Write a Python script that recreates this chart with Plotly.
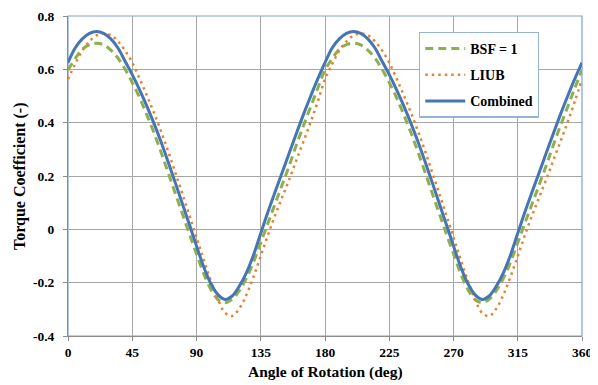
import plotly.graph_objects as go

angle = list(range(0, 365, 5))

bsf1 = [0.597, 0.640, 0.675, 0.693, 0.698, 0.692, 0.672, 0.642, 0.600, 0.550,
        0.495, 0.432, 0.365, 0.292, 0.215, 0.137, 0.060, -0.017, -0.092, -0.165,
        -0.225, -0.263, -0.275, -0.262, -0.230, -0.183, -0.122, -0.050, 0.023, 0.095,
        0.167, 0.240, 0.317, 0.390, 0.460, 0.530, 0.597,
        0.640, 0.675, 0.693, 0.698, 0.692, 0.672, 0.642, 0.600, 0.550,
        0.495, 0.432, 0.365, 0.292, 0.215, 0.137, 0.060, -0.017, -0.092, -0.165,
        -0.225, -0.263, -0.275, -0.262, -0.230, -0.183, -0.122, -0.050, 0.023, 0.095,
        0.167, 0.240, 0.317, 0.390, 0.460, 0.530, 0.597]

liub = [0.563, 0.620, 0.670, 0.705, 0.727, 0.735, 0.728, 0.705, 0.670, 0.625,
        0.567, 0.505, 0.440, 0.370, 0.295, 0.215, 0.135, 0.053, -0.030, -0.113,
        -0.192, -0.262, -0.313, -0.325, -0.297, -0.245, -0.177, -0.100, -0.022, 0.052,
        0.120, 0.188, 0.260, 0.330, 0.403, 0.480, 0.563,
        0.620, 0.670, 0.705, 0.727, 0.735, 0.728, 0.705, 0.670, 0.625,
        0.567, 0.505, 0.440, 0.370, 0.295, 0.215, 0.135, 0.053, -0.030, -0.113,
        -0.192, -0.262, -0.313, -0.325, -0.297, -0.245, -0.177, -0.100, -0.022, 0.052,
        0.120, 0.188, 0.260, 0.330, 0.403, 0.480, 0.563]

combined = [0.625, 0.680, 0.714, 0.735, 0.742, 0.735, 0.714, 0.680, 0.630, 0.580,
            0.525, 0.465, 0.400, 0.330, 0.255, 0.177, 0.098, 0.018, -0.062, -0.140,
            -0.203, -0.245, -0.263, -0.250, -0.213, -0.162, -0.095, -0.015, 0.065, 0.140,
            0.213, 0.287, 0.360, 0.432, 0.500, 0.565, 0.625,
            0.680, 0.714, 0.735, 0.742, 0.735, 0.714, 0.680, 0.630, 0.580,
            0.525, 0.465, 0.400, 0.330, 0.255, 0.177, 0.098, 0.018, -0.062, -0.140,
            -0.203, -0.245, -0.263, -0.250, -0.213, -0.162, -0.095, -0.015, 0.065, 0.140,
            0.213, 0.287, 0.360, 0.432, 0.500, 0.565, 0.625]

x_ticks = [0, 45, 90, 135, 180, 225, 270, 315, 360]
y_ticks = [-0.4, -0.2, 0, 0.2, 0.4, 0.6, 0.8]
y_tick_labels = ["-0.4", "-0.2", "0", "0.2", "0.4", "0.6", "0.8"]

series_names = ["BSF = 1", "LIUB", "Combined"]
series_colors = ["#8DB04F", "#E9822F", "#4675B5"]
x_title = "Angle of Rotation (deg)"
y_title = "Torque Coefficient (-)"

serif = "Liberation Serif"

fig = go.Figure()
fig.add_trace(go.Scatter(x=angle, y=bsf1, name=series_names[0], mode="lines",
                         line=dict(color=series_colors[0], width=3, dash="8px,5px", shape="spline"),
                         legendgroup="a"))
fig.add_trace(go.Scatter(x=angle, y=liub, name=series_names[1], mode="lines",
                         line=dict(color=series_colors[1], width=2.5, dash="2.5px,4px", shape="spline"),
                         legendgroup="b"))
fig.add_trace(go.Scatter(x=angle, y=combined, name=series_names[2], mode="lines",
                         line=dict(color=series_colors[2], width=3, shape="spline"),
                         legendgroup="c"))

fig.add_shape(type="rect", xref="paper", yref="paper", x0=0, y0=0, x1=1, y1=1,
              line=dict(color="#7F9FD0", width=1.2), layer="between")

fig.add_annotation(text=x_title, xref="paper", yref="paper", x=0.5, y=0,
                   xanchor="center", yanchor="middle", yshift=-36,
                   showarrow=False, font=dict(family=serif, size=15.5, color="black", weight="bold"))
fig.add_annotation(text=y_title, xref="paper", yref="paper", x=0, y=0.5,
                   xanchor="center", yanchor="middle", xshift=-48, textangle=-90,
                   showarrow=False, font=dict(family=serif, size=16, color="black", weight="bold"))

tick_font = dict(family=serif, size=13.5, color="black", weight="bold")
legend_font = dict(family=serif, size=14, color="black", weight="bold")
# the page body adds an 8px offset, so the figure is sized to fill 598x385 from there
fig.update_layout(
    width=590, height=377,
    margin=dict(l=60, r=16, t=8, b=49, autoexpand=False),
    paper_bgcolor="white", plot_bgcolor="white",
    font=dict(family=serif, size=13, color="black", weight="bold"),
    showlegend=True,
    legend=dict(x=0.683, y=0.951, xanchor="left", yanchor="top",
                bgcolor="white", bordercolor="#95B3D7", borderwidth=1.2,
                font=legend_font, tracegroupgap=5, itemwidth=40),
    xaxis=dict(range=[0, 360], tickvals=x_ticks, ticktext=[str(v) for v in x_ticks],
               showgrid=True, gridcolor="#A6A6A6", gridwidth=1,
               showline=True, linecolor="#8C8C8C", linewidth=1,
               ticks="outside", ticklen=4, tickcolor="#8C8C8C",
               zeroline=False, automargin=False, tickfont=tick_font),
    yaxis=dict(range=[-0.4, 0.8], tickvals=y_ticks, ticktext=y_tick_labels,
               showgrid=True, gridcolor="#A6A6A6", gridwidth=1,
               showline=True, linecolor="#8C8C8C", linewidth=1,
               ticks="outside", ticklen=4, tickcolor="#8C8C8C",
               zeroline=False, automargin=False, ticklabelstandoff=6,
               tickfont=tick_font),
)

fig.write_html("out.html")
